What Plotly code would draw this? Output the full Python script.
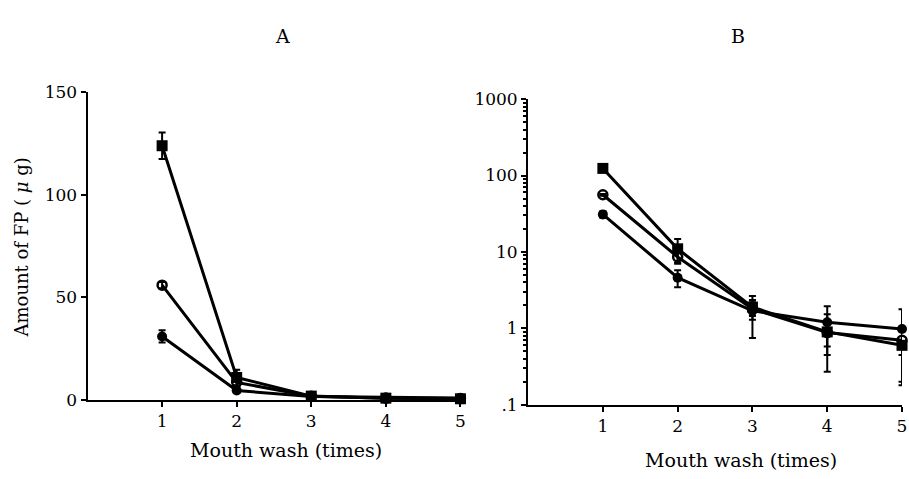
import plotly.graph_objects as go

W, H = 909, 479

washes = [1, 2, 3, 4, 5]

# Series: filled square, open circle, filled circle (amount of FP, µg)
sq_vals = [124, 11.0, 1.9, 0.9, 0.6]
sq_err = [6.5, 3.8, 0.45, 0.63, 0.4]
oc_vals = [56, 8.6, 1.8, 0.88, 0.7]
oc_err = [1.5, 1.6, 0.5, 0.3, 0.25]
fc_vals = [31, 4.6, 1.7, 1.2, 0.98]
fc_err = [3.0, 1.15, 0.95, 0.75, 0.8]

x_ticks = [1, 2, 3, 4, 5]
yA_ticks = [0, 50, 100, 150]
yB_ticks = [0.1, 1, 10, 100, 1000]
yB_labels = [".1", "1", "10", "100", "1000"]

FONT = "DejaVu Serif"
BLACK = "#000000"

series = [
    (sq_vals, sq_err, dict(symbol="square", size=11, color=BLACK, line=dict(width=0))),
    (oc_vals, oc_err, dict(symbol="circle-open", size=9, color=BLACK, line=dict(width=2.5, color=BLACK))),
    (fc_vals, fc_err, dict(symbol="circle", size=10, color=BLACK, line=dict(width=0))),
]

fig = go.Figure()
for xa, ya in [("x", "y"), ("x2", "y2")]:
    for vals, errs, mk in series:
        fig.add_trace(go.Scatter(
            x=washes, y=vals, xaxis=xa, yaxis=ya,
            mode="lines+markers",
            line=dict(color=BLACK, width=3),
            marker=mk,
            error_y=dict(type="data", array=errs, visible=True,
                         color=BLACK, thickness=2, width=3.5),
            showlegend=False, cliponaxis=False,
        ))

def px_x(p):
    return p / W

def px_y(p):
    return (H - p) / H

axis_common = dict(
    showgrid=False, zeroline=False, showline=True, linecolor=BLACK, linewidth=2,
    ticks="outside", tickcolor=BLACK, tickwidth=2, ticklen=5,
    tickfont=dict(family=FONT, size=17, color=BLACK),
)

def label(text, x, y, size, **kw):
    return dict(text=text, x=px_x(x), y=px_y(y), xref="paper", yref="paper",
                xanchor="center", yanchor="middle", showarrow=False,
                font=dict(family=FONT, size=size, color=BLACK), **kw)

fig.update_layout(
    width=W, height=H,
    margin=dict(l=0, r=0, t=0, b=0),
    paper_bgcolor="white", plot_bgcolor="white",
    xaxis=dict(domain=[px_x(88), px_x(463)], range=[0, 5], tickvals=x_ticks,
               anchor="y", **axis_common),
    yaxis=dict(domain=[px_y(407), px_y(86)], range=[0, 150], tickvals=yA_ticks,
               anchor="x", **axis_common),
    xaxis2=dict(domain=[px_x(531), px_x(907)], range=[0, 5], tickvals=x_ticks,
                anchor="y2", **axis_common),
    yaxis2=dict(domain=[px_y(412), px_y(93)], type="log", range=[-1, 3],
                tickvals=yB_ticks, ticktext=yB_labels, anchor="x2",
                minor=dict(ticks="outside", ticklen=3, tickwidth=1.5, tickcolor=BLACK, dtick="D1"),
                **axis_common),
    annotations=[
        label("A", 284, 27, 19),
        label("B", 742, 27, 19),
        label("Mouth wash (times)", 288, 459, 19),
        label("Mouth wash (times)", 745, 470, 19),
        label("Amount of FP ( <i>μ</i> g)", 22, 248, 18, textangle=-90),
    ],
)

fig.write_html("out.html")
